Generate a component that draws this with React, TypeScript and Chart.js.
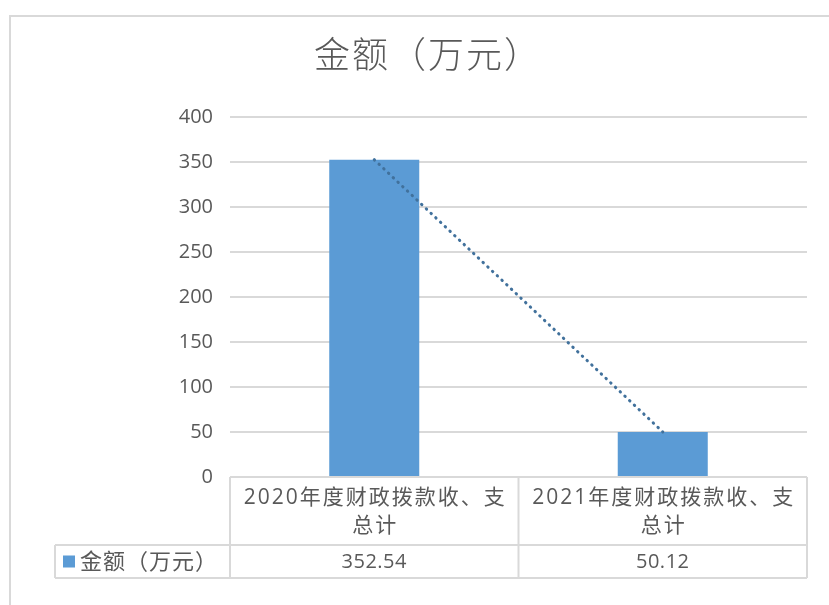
import React, { useEffect, useRef } from "react";
import { Chart, registerables } from "chart.js";

Chart.register(...registerables);

const TITLE = "金额（万元）";
const SERIES_NAME = "金额（万元）";
const CATEGORY_LINES = [
  ["2020年度财政拨款收、支", "总计"],
  ["2021年度财政拨款收、支", "总计"],
];
const CATEGORIES = ["2020年度财政拨款收、支总计", "2021年度财政拨款收、支总计"];
const VALUES = [352.54, 50.12];
const VALUE_LABELS = ["352.54", "50.12"];
const Y_MIN = 0;
const Y_MAX = 400;
const Y_STEP = 50;

const BAR_COLOR = "#5b9bd5";
const TREND_COLOR = "#41719c";
const TEXT_COLOR = "#595959";
const LINE_COLOR = "#d9d9d9";
const NUM_FONT = "'Open Sans', 'Noto Sans CJK SC', sans-serif";
const CJK_FONT = "'Open Sans', 'Noto Sans CJK SC', sans-serif";

const decorPlugin = {
  id: "decor",
  beforeDraw(chart: any) {
    const ctx = chart.ctx;
    ctx.save();
    ctx.fillStyle = "#ffffff";
    ctx.fillRect(0, 0, chart.width, chart.height);
    // outer frame
    ctx.strokeStyle = LINE_COLOR;
    ctx.lineWidth = 2;
    ctx.beginPath();
    ctx.moveTo(10, chart.height + 5);
    ctx.lineTo(10, 16);
    ctx.lineTo(chart.width + 5, 16);
    ctx.stroke();
    // title
    ctx.fillStyle = TEXT_COLOR;
    ctx.font = `300 36px ${CJK_FONT}`;
    ctx.textAlign = "center";
    ctx.textBaseline = "middle";
    (ctx as any).letterSpacing = "2px";
    ctx.fillText(TITLE, 428, 58);
    ctx.restore();
  },
  afterDraw(chart: any) {
    const ctx = chart.ctx;
    const { left, right, bottom } = chart.chartArea;
    const xs = chart.scales.x;
    const rowTop = bottom;
    const rowMid = bottom + 68;
    const rowBot = bottom + 101;
    const tableLeft = 55;
    const mid = (xs.getPixelForValue(0) + xs.getPixelForValue(1)) / 2;
    ctx.save();
    ctx.strokeStyle = LINE_COLOR;
    ctx.lineWidth = 2;
    ctx.beginPath();
    ctx.moveTo(left, rowTop);
    ctx.lineTo(right, rowTop);
    ctx.moveTo(tableLeft, rowMid);
    ctx.lineTo(right, rowMid);
    ctx.moveTo(tableLeft, rowBot);
    ctx.lineTo(right, rowBot);
    ctx.moveTo(tableLeft, rowMid);
    ctx.lineTo(tableLeft, rowBot);
    ctx.moveTo(left, rowTop);
    ctx.lineTo(left, rowBot);
    ctx.moveTo(mid, rowTop);
    ctx.lineTo(mid, rowBot);
    ctx.moveTo(right, rowTop);
    ctx.lineTo(right, rowBot);
    ctx.stroke();

    ctx.fillStyle = TEXT_COLOR;
    ctx.textAlign = "center";
    ctx.textBaseline = "middle";
    CATEGORY_LINES.forEach((lines, i) => {
      const cx = xs.getPixelForValue(i);
      ctx.font = `21px ${CJK_FONT}`;
      (ctx as any).letterSpacing = "2px";
      lines.forEach((ln, j) => {
        ctx.fillText(ln, cx + 1, rowTop + 21 + j * 28);
      });
      (ctx as any).letterSpacing = "0.5px";
      ctx.font = `20px ${NUM_FONT}`;
      ctx.fillText(VALUE_LABELS[i], cx, (rowMid + rowBot) / 2 + 1);
    });

    // legend key
    ctx.fillStyle = BAR_COLOR;
    ctx.fillRect(63, (rowMid + rowBot) / 2 - 6, 12, 12);
    ctx.fillStyle = TEXT_COLOR;
    ctx.textAlign = "left";
    ctx.font = `22px ${CJK_FONT}`;
    (ctx as any).letterSpacing = "1px";
    ctx.fillText(SERIES_NAME, 80, (rowMid + rowBot) / 2 + 1);
    ctx.restore();
  },
};

export default function App() {
  const ref = useRef<HTMLCanvasElement | null>(null);

  useEffect(() => {
    document.body.style.margin = "0";
    const canvas = ref.current!;
    const chart = new Chart(canvas, {
      type: "bar",
      data: {
        labels: CATEGORIES,
        datasets: [
          {
            type: "line",
            label: "trend",
            data: VALUES,
            borderColor: TREND_COLOR,
            borderWidth: 3,
            borderDash: [0.5, 6],
            borderCapStyle: "round",
            pointRadius: 0,
            fill: false,
            order: 0,
          } as any,
          {
            type: "bar",
            label: SERIES_NAME,
            data: VALUES,
            backgroundColor: BAR_COLOR,
            categoryPercentage: 1,
            barPercentage: 0.312,
            order: 1,
          },
        ],
      },
      options: {
        responsive: false,
        animation: false,
        layout: { padding: { left: 0, right: 22, top: 117, bottom: 128 } },
        plugins: {
          legend: { display: false },
          title: { display: false },
          tooltip: { enabled: false },
        },
        scales: {
          x: { display: false, offset: true },
          y: {
            min: Y_MIN,
            max: Y_MAX,
            ticks: {
              stepSize: Y_STEP,
              color: TEXT_COLOR,
              font: { family: NUM_FONT, size: 20 },
              padding: 17,
            },
            grid: { color: LINE_COLOR, lineWidth: 2, drawTicks: false },
            border: { display: false },
            afterFit: (s: any) => {
              s.width = 230;
            },
          },
        },
      },
      plugins: [decorPlugin],
    });
    return () => chart.destroy();
  }, []);

  return (
    <div style={{ position: "fixed", left: 0, top: 0, width: 829, height: 605 }}>
      <canvas ref={ref} width={829} height={605} style={{ display: "block" }} />
    </div>
  );
}
